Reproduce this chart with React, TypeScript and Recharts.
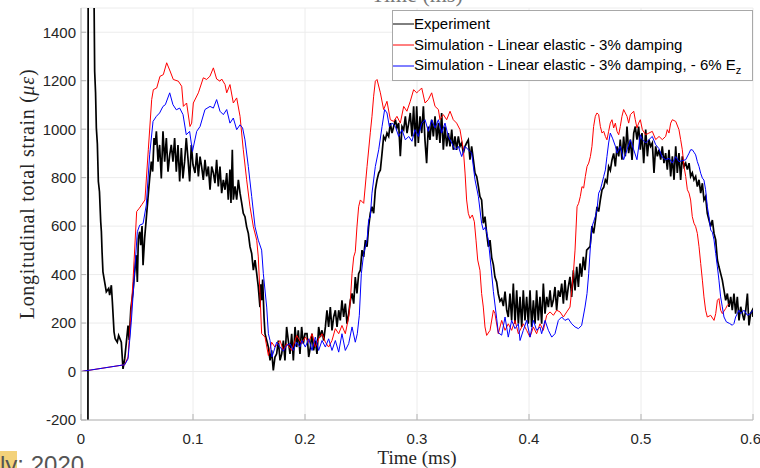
import React from "react";
import {
  LineChart,
  Line,
  XAxis,
  YAxis,
  CartesianGrid,
  Legend,
} from "recharts";

// time (ms) vs longitudinal strain (micro-strain)
const experiment: [number, number][] = [
  [0.0062, -260], [0.0064, 1620], [0.0115, 1620], [0.0122, 1239], [0.013, 1150],
  [0.0137, 1005], [0.0146, 940], [0.0155, 784], [0.0165, 742], [0.0176, 618],
  [0.0182, 577], [0.0188, 494], [0.0196, 411], [0.0211, 370], [0.0226, 329],
  [0.0247, 343], [0.0256, 315], [0.0271, 356], [0.028, 288], [0.0295, 163],
  [0.0305, 135], [0.0324, 121], [0.0336, 149], [0.036, 121], [0.0375, 11],
  [0.039, 52], [0.0405, 121], [0.042, 190], [0.043, 130], [0.0445, 260],
  [0.0464, 328], [0.0479, 411], [0.0494, 480], [0.0503, 370], [0.0512, 549],
  [0.0524, 577], [0.0533, 521], [0.0545, 600], [0.0554, 439], [0.0568, 549],
  [0.0583, 632], [0.0598, 715], [0.0613, 797], [0.0628, 866], [0.064, 825],
  [0.0652, 963], [0.0662, 935], [0.0673, 991], [0.0688, 866], [0.0702, 935],
  [0.0717, 797], [0.0732, 991], [0.0747, 866], [0.0762, 963], [0.0777, 825],
  [0.0792, 894], [0.0806, 935], [0.0821, 866], [0.0836, 963], [0.0851, 825],
  [0.0866, 935], [0.0881, 784], [0.0896, 922], [0.091, 797], [0.0925, 866],
  [0.094, 963], [0.0955, 880], [0.097, 784], [0.0985, 935], [0.1, 853],
  [0.1018, 819], [0.1033, 901], [0.1048, 805], [0.1063, 887], [0.1077, 846],
  [0.1092, 791], [0.1107, 874], [0.1122, 805], [0.1137, 846], [0.1152, 750],
  [0.1167, 846], [0.1182, 819], [0.1196, 777], [0.1211, 874], [0.1226, 764],
  [0.1241, 846], [0.1256, 736], [0.1271, 791], [0.1286, 750], [0.1301, 819],
  [0.1315, 709], [0.133, 833], [0.1339, 695], [0.1351, 915], [0.136, 709],
  [0.1375, 764], [0.139, 709], [0.1405, 791], [0.142, 736], [0.1435, 695],
  [0.1449, 653], [0.1464, 639], [0.1479, 597], [0.1494, 570], [0.1509, 515],
  [0.1524, 487], [0.1539, 418], [0.1554, 460], [0.1569, 404], [0.1583, 349],
  [0.1598, 266], [0.1606, 360], [0.1613, 294], [0.1622, 380], [0.1634, 225],
  [0.1643, 156], [0.1658, 128], [0.1673, 101], [0.1688, 46], [0.1702, 87],
  [0.1717, 5], [0.1732, 60], [0.1747, 73], [0.1762, 128], [0.1777, 46],
  [0.1792, 73], [0.1807, 128], [0.1821, 46], [0.1836, 184], [0.1851, 128],
  [0.1866, 73], [0.1881, 156], [0.1896, 46], [0.1911, 184], [0.1926, 101],
  [0.194, 170], [0.1955, 73], [0.197, 184], [0.1985, 115], [0.2, 156],
  [0.2018, 156], [0.2033, 60], [0.2048, 101], [0.2063, 156], [0.2077, 87],
  [0.2092, 128], [0.2107, 73], [0.2122, 184], [0.2137, 142], [0.2152, 170],
  [0.2167, 128], [0.2182, 184], [0.2196, 253], [0.2211, 184], [0.2226, 266],
  [0.2241, 170], [0.2256, 225], [0.2271, 253], [0.2286, 184], [0.2301, 253],
  [0.2315, 211], [0.233, 294], [0.2345, 225], [0.236, 280], [0.2375, 197],
  [0.239, 238], [0.2405, 294], [0.242, 322], [0.2435, 280], [0.2449, 390],
  [0.2464, 322], [0.2479, 404], [0.2494, 418], [0.2509, 501], [0.2524, 473],
  [0.2539, 542], [0.2554, 515], [0.2568, 597], [0.2583, 653], [0.2598, 680],
  [0.2613, 653], [0.2628, 750], [0.2643, 791], [0.2658, 819], [0.2673, 832],
  [0.2688, 901], [0.2702, 970], [0.2717, 956], [0.2732, 984], [0.2747, 970],
  [0.2762, 1025], [0.2777, 984], [0.2792, 1011], [0.2807, 1039], [0.2821, 1005],
  [0.2836, 1025], [0.2851, 888], [0.2866, 1011], [0.2881, 998], [0.2896, 1053],
  [0.2911, 984], [0.2926, 1025], [0.294, 1067], [0.2955, 970], [0.297, 1094],
  [0.2985, 929], [0.2997, 1094], [0.3012, 943], [0.3027, 1053], [0.3042, 984],
  [0.3057, 1094], [0.3071, 956], [0.3086, 860], [0.3101, 1011], [0.3116, 956],
  [0.3131, 1039], [0.3146, 970], [0.3161, 1053], [0.3176, 956], [0.3191, 1025],
  [0.3205, 943], [0.322, 1067], [0.3235, 915], [0.325, 1011], [0.3265, 929],
  [0.328, 984], [0.3295, 929], [0.331, 998], [0.3324, 915], [0.3339, 970],
  [0.3354, 915], [0.3369, 970], [0.3384, 929], [0.3399, 943], [0.3414, 901],
  [0.3429, 929], [0.3443, 943], [0.3458, 956], [0.3473, 874], [0.3488, 929],
  [0.3503, 874], [0.3518, 819], [0.3533, 805], [0.3548, 764], [0.3562, 722],
  [0.3577, 708], [0.3592, 612], [0.3607, 639], [0.3622, 570], [0.3637, 515],
  [0.3652, 542], [0.3667, 470], [0.3682, 440], [0.3696, 390], [0.3711, 370],
  [0.3726, 320], [0.3741, 290], [0.3756, 300], [0.3771, 270], [0.3786, 330],
  [0.3801, 253], [0.3815, 225], [0.383, 322], [0.3845, 211], [0.386, 363],
  [0.3875, 197], [0.389, 335], [0.3905, 197], [0.392, 308], [0.3935, 184],
  [0.3949, 335], [0.3964, 211], [0.3979, 308], [0.3994, 197], [0.4009, 335],
  [0.4024, 184], [0.4039, 294], [0.4054, 197], [0.4068, 335], [0.4083, 211],
  [0.4098, 308], [0.4113, 197], [0.4128, 363], [0.4143, 239], [0.4158, 308],
  [0.4173, 266], [0.4188, 335], [0.4202, 266], [0.4217, 294], [0.4232, 349],
  [0.4247, 253], [0.4262, 335], [0.4277, 308], [0.4292, 363], [0.4307, 280],
  [0.4321, 377], [0.4336, 294], [0.4351, 349], [0.4366, 391], [0.4381, 308],
  [0.4396, 418], [0.4411, 335], [0.4426, 432], [0.4441, 349], [0.4455, 446],
  [0.447, 391], [0.4485, 473], [0.45, 418], [0.4515, 501], [0.4545, 515],
  [0.4562, 600], [0.4577, 570], [0.4592, 620], [0.4607, 680], [0.4622, 660],
  [0.4637, 708], [0.4652, 750], [0.4667, 760], [0.4682, 791], [0.4696, 780],
  [0.4711, 846], [0.4726, 830], [0.4741, 873], [0.4756, 900], [0.4771, 846],
  [0.4786, 929], [0.4801, 888], [0.4815, 957], [0.483, 874], [0.4845, 970],
  [0.486, 888], [0.4875, 1011], [0.489, 901], [0.4905, 957], [0.492, 873],
  [0.4935, 984], [0.4949, 1011], [0.4964, 957], [0.4979, 1011], [0.4994, 915],
  [0.5009, 984], [0.5024, 860], [0.5042, 998], [0.5057, 888], [0.5071, 957],
  [0.5086, 929], [0.5101, 943], [0.5116, 819], [0.5131, 929], [0.5146, 888],
  [0.5161, 915], [0.5176, 874], [0.519, 929], [0.5205, 860], [0.522, 901],
  [0.5235, 833], [0.525, 915], [0.5265, 805], [0.528, 888], [0.5295, 791],
  [0.531, 929], [0.5324, 819], [0.5339, 901], [0.5354, 791], [0.5369, 888],
  [0.5384, 846], [0.5399, 860], [0.5414, 833], [0.5429, 860], [0.5443, 805],
  [0.5458, 820], [0.5473, 791], [0.5488, 805], [0.5503, 763], [0.5518, 791],
  [0.5533, 736], [0.5548, 777], [0.5562, 708], [0.5577, 722], [0.5592, 653],
  [0.5607, 625], [0.5622, 598], [0.5637, 625], [0.5652, 570], [0.5667, 543],
  [0.5682, 460], [0.5696, 432], [0.5711, 405], [0.5726, 377], [0.5741, 336],
  [0.5756, 294], [0.5771, 322], [0.5786, 267], [0.5801, 308], [0.5815, 253],
  [0.583, 322], [0.5845, 239], [0.586, 308], [0.5875, 211], [0.589, 267],
  [0.5905, 239], [0.592, 211], [0.5935, 253], [0.595, 322], [0.5964, 190],
  [0.5979, 239], [0.5994, 253], [0.6, 225],
];

const simDamping: [number, number][] = [
  [0, 0], [0.039, 28], [0.042, 60], [0.0464, 370], [0.0497, 660], [0.0521, 674],
  [0.0545, 690], [0.0571, 708], [0.0601, 915], [0.0631, 1122], [0.0646, 1163],
  [0.0676, 1170], [0.0705, 1218], [0.0735, 1225], [0.0765, 1274], [0.0795, 1240],
  [0.0824, 1205], [0.0869, 1198], [0.0899, 1177], [0.0914, 1094], [0.0943, 1108],
  [0.0973, 1011], [0.0988, 1025], [0.1003, 1108], [0.1048, 1150], [0.1092, 1212],
  [0.1122, 1205], [0.1152, 1219], [0.1182, 1253], [0.1211, 1207], [0.1241, 1198],
  [0.1256, 1207], [0.1286, 1184], [0.1301, 1150], [0.133, 1184], [0.136, 1108],
  [0.139, 1129], [0.142, 1053], [0.1449, 915], [0.1479, 791], [0.1509, 680],
  [0.1539, 597], [0.1569, 542], [0.1583, 473], [0.1598, 322], [0.1613, 156],
  [0.1643, 142], [0.1673, 66], [0.1702, 121], [0.1732, 101], [0.1777, 128],
  [0.1807, 87], [0.1836, 115], [0.1881, 87], [0.1926, 149], [0.197, 115],
  [0.2003, 142], [0.2033, 121], [0.2063, 156], [0.2092, 101], [0.2122, 135],
  [0.2152, 156], [0.2182, 121], [0.2211, 101], [0.2241, 128], [0.2271, 177],
  [0.2301, 156], [0.233, 190], [0.236, 156], [0.239, 225], [0.2405, 294],
  [0.242, 404], [0.2435, 473], [0.2449, 494], [0.2464, 597], [0.2479, 680],
  [0.2494, 708], [0.2524, 694], [0.2554, 846], [0.2583, 985], [0.2598, 1053],
  [0.2613, 1136], [0.2628, 1198], [0.2643, 1205], [0.2673, 1150], [0.2702, 1081],
  [0.2732, 1115], [0.2762, 1039], [0.2792, 1032], [0.2821, 1053], [0.2851, 1025],
  [0.2881, 1094], [0.291, 1074], [0.294, 1115], [0.297, 1163], [0.2997, 1150],
  [0.3012, 1156], [0.3042, 1170], [0.3072, 1108], [0.3101, 1122], [0.3131, 1150],
  [0.3161, 1094], [0.3191, 1081], [0.3205, 1039], [0.3235, 1060], [0.3265, 1039],
  [0.3295, 1074], [0.3324, 1039], [0.3354, 1025], [0.3384, 998], [0.3414, 915],
  [0.3429, 819], [0.3443, 708], [0.3458, 653], [0.3473, 632], [0.3494, 646],
  [0.3512, 618], [0.3527, 542], [0.3542, 460], [0.3562, 418], [0.3577, 322],
  [0.3592, 266], [0.3607, 184], [0.3622, 149], [0.3652, 170], [0.3682, 253],
  [0.3696, 239], [0.3726, 156], [0.3756, 211], [0.3786, 170], [0.3815, 197],
  [0.3845, 170], [0.3875, 211], [0.3905, 156], [0.3949, 197], [0.3979, 170],
  [0.4009, 142], [0.4039, 184], [0.4068, 156], [0.4098, 197], [0.4128, 170],
  [0.4158, 232], [0.4188, 246], [0.4218, 232], [0.4247, 253], [0.4277, 246],
  [0.4307, 225], [0.4337, 246], [0.4366, 266], [0.4381, 335], [0.4396, 404],
  [0.4411, 501], [0.4429, 680], [0.4443, 694], [0.4458, 722], [0.4473, 763],
  [0.4488, 757], [0.4503, 805], [0.4518, 846], [0.4533, 860], [0.4548, 887],
  [0.4562, 929], [0.4577, 1011], [0.4592, 1053], [0.4607, 1067], [0.4622, 1060],
  [0.4637, 1011], [0.4652, 984], [0.4667, 991], [0.4682, 970], [0.4696, 956],
  [0.4711, 991], [0.4726, 1025], [0.4741, 1039], [0.4756, 1005], [0.4771, 1025],
  [0.4786, 991], [0.4801, 977], [0.4815, 1011], [0.483, 1053], [0.4845, 1081],
  [0.486, 1067], [0.4875, 1053], [0.489, 1025], [0.4905, 1060], [0.4935, 1074],
  [0.4949, 1039], [0.4964, 1005], [0.4979, 1025], [0.4994, 1039], [0.5012, 998],
  [0.5042, 977], [0.5071, 984], [0.5101, 991], [0.5131, 957], [0.5161, 970],
  [0.519, 957], [0.522, 970], [0.5235, 998], [0.525, 984], [0.5265, 1025],
  [0.528, 1039], [0.531, 1032], [0.5339, 998], [0.5354, 957], [0.5369, 915],
  [0.5384, 846], [0.5399, 805], [0.5414, 750], [0.5429, 736], [0.5443, 708],
  [0.5458, 639], [0.5473, 612], [0.5488, 598], [0.5503, 570], [0.5518, 515],
  [0.5533, 446], [0.5548, 377], [0.5562, 308], [0.5577, 253], [0.5592, 225],
  [0.5622, 232], [0.5652, 211], [0.5667, 239], [0.5682, 294], [0.5696, 301],
  [0.5711, 253], [0.5726, 239], [0.5756, 260], [0.5771, 273], [0.5786, 280],
];

const simReducedEz: [number, number][] = [
  [0, 0], [0.039, 28], [0.042, 52], [0.0449, 204], [0.0479, 411], [0.0503, 577],
  [0.0524, 604], [0.0554, 610], [0.0583, 687], [0.0613, 894], [0.0643, 1032],
  [0.0673, 1053], [0.0702, 1067], [0.0732, 1094], [0.0753, 1101], [0.0792, 1150],
  [0.0821, 1101], [0.0851, 1080], [0.0881, 1087], [0.0911, 1060], [0.094, 977],
  [0.097, 991], [0.0995, 908], [0.1033, 991], [0.1063, 1011], [0.1107, 1081],
  [0.1152, 1094], [0.1182, 1087], [0.1211, 1122], [0.1241, 1074], [0.1271, 1060],
  [0.1301, 1081], [0.133, 1025], [0.136, 1046], [0.139, 998], [0.142, 1018],
  [0.1443, 1005], [0.1464, 956], [0.1494, 846], [0.1524, 722], [0.1554, 597],
  [0.1583, 542], [0.1613, 501], [0.1628, 404], [0.1658, 266], [0.1673, 156],
  [0.1688, 128], [0.1705, 60], [0.1747, 121], [0.1777, 101], [0.1807, 84],
  [0.1836, 108], [0.1866, 115], [0.1896, 87], [0.1926, 121], [0.1955, 101],
  [0.1973, 128], [0.2003, 101], [0.2033, 135], [0.2063, 87], [0.2092, 142],
  [0.2122, 87], [0.2152, 128], [0.2182, 101], [0.2211, 135], [0.2241, 87],
  [0.2271, 128], [0.2301, 80], [0.233, 156], [0.236, 87], [0.239, 115],
  [0.242, 184], [0.2449, 121], [0.2467, 156], [0.2485, 232], [0.2503, 404],
  [0.2524, 487], [0.2554, 542], [0.2568, 625], [0.2583, 639], [0.2598, 736],
  [0.2628, 846], [0.2658, 915], [0.2688, 1011], [0.2711, 1081], [0.2732, 1067],
  [0.2753, 1011], [0.2777, 1025], [0.2807, 1011], [0.2836, 970], [0.2866, 998],
  [0.2896, 956], [0.2926, 970], [0.2955, 950], [0.2982, 998], [0.3012, 970],
  [0.3042, 1025], [0.3072, 1039], [0.3101, 991], [0.3131, 1039], [0.3161, 1005],
  [0.3191, 1039], [0.322, 984], [0.325, 1025], [0.328, 970], [0.331, 943],
  [0.3339, 915], [0.3369, 929], [0.3399, 887], [0.3429, 929], [0.3458, 915],
  [0.3488, 901], [0.3518, 791], [0.3548, 722], [0.3577, 612], [0.3592, 584],
  [0.3612, 597], [0.3637, 542], [0.3661, 432], [0.3682, 330], [0.3711, 220],
  [0.3726, 160], [0.3756, 150], [0.3786, 225], [0.3815, 142], [0.3845, 211],
  [0.3875, 177], [0.3905, 197], [0.392, 128], [0.3949, 170], [0.3979, 211],
  [0.4009, 142], [0.4039, 211], [0.4068, 170], [0.4098, 184], [0.4113, 156],
  [0.4143, 211], [0.4173, 170], [0.4203, 142], [0.4232, 156], [0.4262, 211],
  [0.4292, 225], [0.4321, 211], [0.4351, 218], [0.4381, 197], [0.4411, 184],
  [0.4441, 177], [0.447, 190], [0.45, 266], [0.4518, 322], [0.4533, 404],
  [0.4548, 515], [0.4562, 597], [0.4577, 618], [0.4592, 639], [0.4607, 667],
  [0.4622, 736], [0.4637, 750], [0.4652, 777], [0.4667, 805], [0.4682, 832],
  [0.4696, 887], [0.4711, 943], [0.4726, 984], [0.4748, 960], [0.4771, 930],
  [0.4786, 901], [0.4815, 929], [0.4845, 874], [0.4875, 915], [0.4905, 956],
  [0.4935, 915], [0.4964, 874], [0.4994, 977], [0.5012, 957], [0.5042, 943],
  [0.5071, 957], [0.5101, 970], [0.5131, 936], [0.516, 920], [0.519, 884],
  [0.522, 874], [0.525, 880], [0.528, 860], [0.531, 887], [0.5339, 866],
  [0.5369, 870], [0.5399, 874], [0.5429, 901], [0.5443, 915], [0.5458, 915],
  [0.5473, 905], [0.5488, 894], [0.5503, 866], [0.5518, 846], [0.5533, 818],
  [0.5548, 798], [0.5562, 790], [0.5577, 750], [0.5592, 681], [0.5607, 639],
  [0.5622, 584], [0.5637, 575], [0.5652, 543], [0.5667, 487], [0.5682, 432],
  [0.5696, 377], [0.5711, 308], [0.5726, 267], [0.5741, 225], [0.5762, 205],
  [0.5792, 198], [0.5815, 191], [0.583, 198], [0.5845, 225], [0.586, 239],
  [0.5875, 253], [0.589, 239], [0.592, 253], [0.595, 232], [0.5975, 239],
  [0.6, 253],
];

const xTicks = [0, 0.1, 0.2, 0.3, 0.4, 0.5, 0.6];
const yTicks = [-200, 0, 200, 400, 600, 800, 1000, 1200, 1400];

const legendItems = [
  { label: "Experiment", sub: "", color: "#000000" },
  { label: "Simulation - Linear elastic - 3% damping", sub: "", color: "#ff0000" },
  { label: "Simulation - Linear elastic - 3% damping, - 6% E", sub: "z", color: "#0000ff" },
];

const toRows = (pts: [number, number][]) => pts.map(([t, v]) => ({ t, v }));

const axisColor = "#b4b4b4";
const tickFont = { fontFamily: "Liberation Sans, Arial, sans-serif", fontSize: 15, fill: "#262626" };
const serif = "Liberation Serif, Times New Roman, serif";

function LegendBox() {
  return (
    <div
      style={{
        border: "1px solid #a8a8a8",
        background: "#fff",
        width: 359,
        height: 67,
        paddingTop: 2,
      }}
    >
      {legendItems.map((item) => (
        <div
          key={item.color}
          style={{
            display: "flex",
            alignItems: "center",
            height: 21,
            fontFamily: "Liberation Sans, Arial, sans-serif",
            fontSize: 15,
            color: "#000",
            whiteSpace: "nowrap",
          }}
        >
          <svg width={21} height={21} style={{ flex: "none" }}>
            <line x1={0} x2={21} y1={11} y2={11} stroke={item.color} strokeWidth={1} />
          </svg>
          <span>
            {item.label}
            {item.sub && <sub style={{ fontSize: 11 }}>{item.sub}</sub>}
          </span>
        </div>
      ))}
    </div>
  );
}

export default function App() {
  return (
    <div
      style={{
        position: "absolute",
        left: 0,
        top: 0,
        width: 760,
        height: 468,
        overflow: "hidden",
        background: "#fff",
      }}
    >
      <LineChart width={760} height={468} margin={{ top: 8, right: 7, left: 0, bottom: 0 }}>
        <CartesianGrid stroke="#ececec" />
        <XAxis
          dataKey="t"
          type="number"
          domain={[0, 0.6]}
          ticks={xTicks}
          height={48}
          allowDataOverflow
          stroke={axisColor}
          tickSize={-6}
          tickMargin={19}
          tick={tickFont}
        />
        <XAxis
          xAxisId="top"
          orientation="top"
          type="number"
          domain={[0, 0.6]}
          ticks={xTicks}
          height={0}
          stroke={axisColor}
          tickSize={-6}
          tick={false}
        />
        <YAxis
          type="number"
          domain={[-200, 1500]}
          ticks={yTicks}
          width={81}
          allowDataOverflow
          stroke={axisColor}
          tickSize={-5}
          tickMargin={10}
          tick={tickFont}
        />
        <YAxis
          yAxisId="right"
          orientation="right"
          type="number"
          domain={[-200, 1500]}
          ticks={yTicks}
          width={0}
          stroke={axisColor}
          tickSize={-5}
          tick={false}
        />
        <Legend
          layout="horizontal"
          verticalAlign="middle"
          align="center"
          content={() => <LegendBox />}
          wrapperStyle={{ position: "absolute", left: 392, top: 10, width: 361 }}
        />
        <Line
          data={toRows(experiment)}
          dataKey="v"
          stroke="#000000"
          strokeWidth={1.7}
          dot={false}
          isAnimationActive={false}
        />
        <Line
          data={toRows(simDamping)}
          dataKey="v"
          stroke="#ff0000"
          strokeWidth={1}
          dot={false}
          isAnimationActive={false}
        />
        <Line
          data={toRows(simReducedEz)}
          dataKey="v"
          stroke="#0000ff"
          strokeWidth={1}
          dot={false}
          isAnimationActive={false}
        />
      </LineChart>

      {/* axis titles, serif like LaTeX */}
      <div
        style={{
          position: "absolute",
          left: 27,
          top: 194,
          transform: "translate(-50%, -50%) rotate(-90deg)",
          whiteSpace: "nowrap",
          fontFamily: serif,
          fontSize: 20,
          letterSpacing: 0.7,
          color: "#262626",
        }}
      >
        Longitudinal total strain (<i>με</i>)
      </div>
      <div
        style={{
          position: "absolute",
          left: 417,
          top: 447,
          transform: "translateX(-50%)",
          whiteSpace: "nowrap",
          fontFamily: serif,
          fontSize: 19,
          color: "#262626",
        }}
      >
        Time (ms)
      </div>
      {/* title of the figure above, cut off by the crop */}
      <div
        style={{
          position: "absolute",
          left: 417,
          top: -18,
          transform: "translateX(-50%)",
          whiteSpace: "nowrap",
          fontFamily: serif,
          fontSize: 22,
          color: "#777",
        }}
      >
        Time (ms)
      </div>
      {/* caption text below, cut off by the crop */}
      <div
        style={{
          position: "absolute",
          left: 0,
          top: 451,
          whiteSpace: "nowrap",
          fontFamily: "Liberation Sans, Arial, sans-serif",
          fontSize: 24,
          color: "#555",
        }}
      >
        <span style={{ background: "#f3d27a" }}>ly</span>: 2020
      </div>
    </div>
  );
}
